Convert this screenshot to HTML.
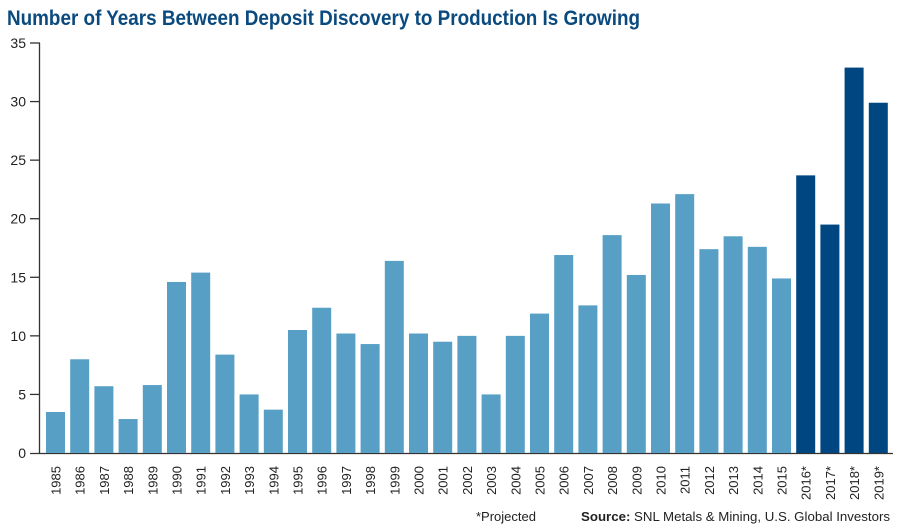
<!DOCTYPE html>
<html><head><meta charset="utf-8"><style>
body{margin:0;background:#fff;}
svg{display:block;font-family:"Liberation Sans",sans-serif;}
</style></head><body>
<svg id="chart" width="900" height="530">
<text x="7" y="25" font-size="21" font-weight="bold" fill="#0a4a7f" textLength="633" lengthAdjust="spacingAndGlyphs">Number of Years Between Deposit Discovery to Production Is Growing</text>
<g id="axes"></g>
<g id="bars"></g>
<text x="476" y="521" font-size="13" fill="#222">*Projected</text>
<text x="581" y="521" font-size="13" fill="#222" textLength="309" lengthAdjust="spacingAndGlyphs"><tspan font-weight="bold">Source:</tspan> SNL Metals &amp; Mining, U.S. Global Investors</text>
</svg>
<script>
const categories=["1985","1986","1987","1988","1989","1990","1991","1992","1993","1994","1995","1996","1997","1998","1999","2000","2001","2002","2003","2004","2005","2006","2007","2008","2009","2010","2011","2012","2013","2014","2015","2016*","2017*","2018*","2019*"];
const values=[3.5,8.0,5.7,2.9,5.8,14.6,15.4,8.4,5.0,3.7,10.5,12.4,10.2,9.3,16.4,10.2,9.5,10.0,5.0,10.0,11.9,16.9,12.6,18.6,15.2,21.3,22.1,17.4,18.5,17.6,14.9,23.7,19.5,32.9,29.9];
const yTicks=[0,5,10,15,20,25,30,35];
const NS="http://www.w3.org/2000/svg";
const y0=453,yTop=43,yMax=35,xStart=46,step=24.2,bw=19;
function y(v){return y0-(v/yMax)*(y0-yTop);}
function x(i){return xStart+i*step;}
function mk(tag,attrs,parent){const e=document.createElementNS(NS,tag);for(const k in attrs)e.setAttribute(k,attrs[k]);parent.appendChild(e);return e;}
const axes=document.getElementById('axes'),bars=document.getElementById('bars');
const yl=mk('line',{x1:39.5,x2:39.5,y1:y(35),y2:y0,stroke:'#333','stroke-width':1.3},axes);


const xl=mk('line',{x1:30,x2:893,y1:y0+0.5,y2:y0+0.5,stroke:'#333','stroke-width':1.3},axes);


yTicks.forEach(t=>{
  if(t>0){const tk=mk('line',{x1:30,x2:40,y1:y(t),y2:y(t),stroke:'#333','stroke-width':1.3},axes);
  
  }
  const tx=mk('text',{x:26,y:y(t)+5,'text-anchor':'end','font-size':14,fill:'#222'},axes);
  tx.textContent=t;
  
  
});
categories.forEach((c,i)=>{
  const proj=c.indexOf('*')>=0;
  const r=mk('rect',{x:x(i),y:y(values[i]),width:bw,height:y0-y(values[i]),fill:proj?'#004680':'#579fc4'},bars);
  
  
  const cx=x(i)+bw/2+5;
  const t=mk('text',{x:cx,y:466,'text-anchor':'end','font-size':13,fill:'#222',transform:'rotate(-90 '+cx+' 466)'},bars);
  t.textContent=c;
  
  
});
</script>
</body></html>
